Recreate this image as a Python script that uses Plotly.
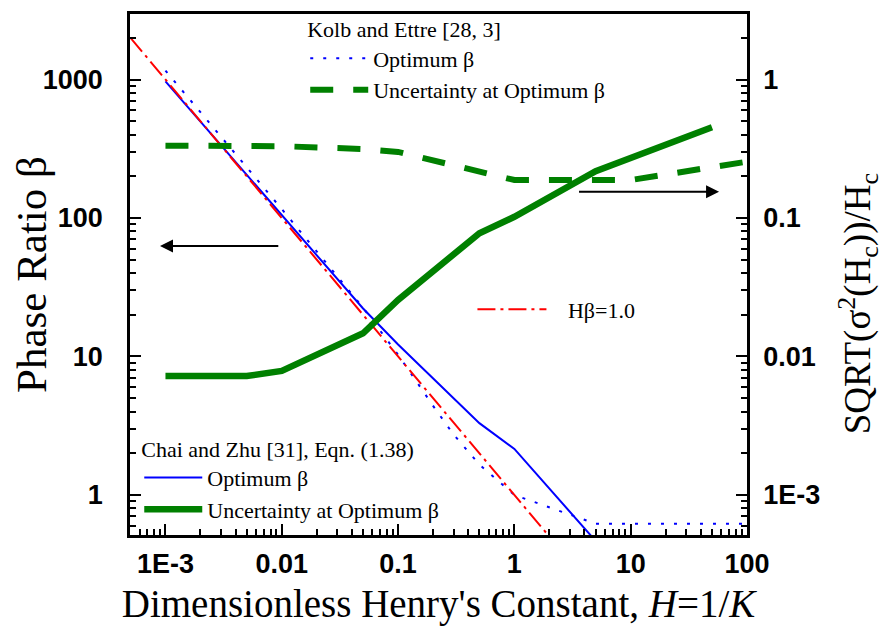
import plotly.graph_objects as go

# ---------------- data ----------------
# Kolb and Ettre [28, 3]
H_kolb = [0.001, 0.01, 0.05, 0.1, 0.2, 0.3, 0.5, 1, 5, 10, 100]
beta_kolb = [1160, 116, 22.5, 10.3, 4.4, 2.73, 1.66, 1.0, 0.62, 0.62, 0.62]
H_kolb_unc = [0.001, 0.01, 0.05, 0.1, 1, 10, 100]
unc_kolb = [0.333, 0.33, 0.315, 0.30, 0.188, 0.188, 0.255]

# Chai and Zhu [31], Eqn. (1.38)
H_chai = [0.001, 0.005, 0.01, 0.05, 0.1, 0.5, 1, 5]
beta_chai = [970, 204, 105, 22.2, 12.2, 3.3, 2.15, 0.465]
H_chai_unc = [0.001, 0.005, 0.01, 0.05, 0.1, 0.5, 1, 5, 50]
unc_chai = [0.00723, 0.00723, 0.00786, 0.0147, 0.0256, 0.0776, 0.102, 0.218, 0.452]

# H*beta = 1.0
H_line = [0.0005, 0.001, 0.01, 0.1, 1, 2]
beta_line = [2000, 1000, 100, 10, 1, 0.5]

x_tickvals = [0.001, 0.01, 0.1, 1, 10, 100]
x_ticktext = ["1E-3", "0.01", "0.1", "1", "10", "100"]
y_tickvals = [1, 10, 100, 1000]
y_ticktext = ["1", "10", "100", "1000"]
y2_tickvals = [0.001, 0.01, 0.1, 1]
y2_ticktext = ["1E-3", "0.01", "0.1", "1"]


def minor_vals(e_lo, e_hi):
    return [k * 10.0 ** e for e in range(e_lo, e_hi) for k in range(2, 10)]


SERIF = "Liberation Serif"
SANS = "Liberation Sans"
BLUE = "#0000FF"
GREEN = "#008000"
RED = "#FF0000"

fig = go.Figure()

fig.add_trace(go.Scatter(
    x=H_kolb, y=beta_kolb, mode="lines", name="Optimum β",
    line=dict(color=BLUE, width=2, dash="3px,10px"), legend="legend"))
fig.add_trace(go.Scatter(
    x=H_kolb_unc, y=unc_kolb, mode="lines", name="Uncertainty at Optimum β",
    yaxis="y2", line=dict(color=GREEN, width=6, dash="23px,20px"), legend="legend"))
fig.add_trace(go.Scatter(
    x=H_chai, y=beta_chai, mode="lines", name="Optimum β",
    line=dict(color=BLUE, width=2), legend="legend2"))
fig.add_trace(go.Scatter(
    x=H_chai_unc, y=unc_chai, mode="lines", name="Uncertainty at Optimum β",
    yaxis="y2", line=dict(color=GREEN, width=6.5), legend="legend2"))
fig.add_trace(go.Scatter(
    x=H_line, y=beta_line, mode="lines", name="\u00a0\u00a0\u00a0Hβ=1.0",
    line=dict(color=RED, width=2, dash="18px,5px,3px,5px"), legend="legend3"))

axis_common = dict(
    type="log", showline=True, linecolor="black", linewidth=2.5,
    ticks="inside", ticklen=11, tickwidth=2, tickcolor="black",
    showgrid=False, zeroline=False, automargin=False,
    tickfont=dict(family=SANS, size=27, color="black", weight="bold"),
)

fig.update_layout(
    width=882, height=624,
    margin=dict(l=122, r=143, t=6, b=97, autoexpand=False),
    paper_bgcolor="white", plot_bgcolor="white",
    font=dict(family=SERIF, color="black"),
    xaxis=dict(
        **axis_common, range=[-3.305, 2.0], mirror=True,
        tickmode="array", tickvals=x_tickvals, ticktext=x_ticktext,
        ticklabelstandoff=3,
        minor=dict(ticks="inside", ticklen=6, tickwidth=1.5, tickcolor="black",
                   tickmode="array", tickvals=minor_vals(-4, 2), showgrid=False),
        title=dict(text="Dimensionless Henry's Constant, <i>H</i>=1/<i>K</i>",
                   font=dict(family=SERIF, size=39, color="black"), standoff=12),
    ),
    yaxis=dict(
        **axis_common, range=[-0.289, 3.473],
        tickmode="array", tickvals=y_tickvals, ticktext=y_ticktext,
        ticklabelstandoff=19,
        minor=dict(ticks="inside", ticklen=6, tickwidth=1.5, tickcolor="black",
                   tickmode="array", tickvals=minor_vals(-1, 4), showgrid=False),
        title=dict(text="Phase Ratio β",
                   font=dict(family=SERIF, size=43, color="black"), standoff=4),
    ),
    yaxis2=dict(
        **axis_common, range=[-3.289, 0.473], overlaying="y", side="right",
        tickmode="array", tickvals=y2_tickvals, ticktext=y2_ticktext,
        ticklabelstandoff=8,
    ),
    legend=dict(
        x=0.284, y=1.01, xanchor="left", yanchor="top",
        bgcolor="rgba(0,0,0,0)", borderwidth=0, itemwidth=58,
        font=dict(family=SERIF, size=22, color="black"),
        title=dict(text="Kolb and Ettre [28, 3]",
                   font=dict(family=SERIF, size=22, color="black")),
        tracegroupgap=0,
    ),
    legend2=dict(
        x=0.015, y=0.205, xanchor="left", yanchor="top",
        bgcolor="rgba(0,0,0,0)", borderwidth=0, itemwidth=58,
        font=dict(family=SERIF, size=22, color="black"),
        title=dict(text="Chai and Zhu [31], Eqn. (1.38)",
                   font=dict(family=SERIF, size=22, color="black")),
        tracegroupgap=0,
    ),
    legend3=dict(
        x=0.555, y=0.473, xanchor="left", yanchor="top",
        bgcolor="rgba(0,0,0,0)", borderwidth=0, itemwidth=69,
        font=dict(family=SERIF, size=22, color="black"),
    ),
    showlegend=True,
)

# minor ticks on the right axis
fig.update_layout(yaxis2_minor=dict(ticks="inside", ticklen=6, tickwidth=1.5,
                                    tickcolor="black", tickmode="array",
                                    tickvals=minor_vals(-4, 1), showgrid=False))

# right axis title
fig.add_annotation(text="SQRT(σ<sup>2</sup>(H<sub>c</sub>))/H<sub>c</sub>",
                   xref="paper", yref="paper", x=1.180, y=0.443,
                   xanchor="center", yanchor="middle", textangle=-90,
                   showarrow=False,
                   font=dict(family=SERIF, size=37, color="black"))

# direction arrows (left -> left axis, right -> right axis)
fig.add_annotation(x=-3.047, y=1.798, ax=-2.017, ay=1.798,
                   xref="x", yref="y", axref="x", ayref="y",
                   text="", showarrow=True, arrowhead=2, arrowsize=1.3,
                   arrowwidth=2, arrowcolor="black")
fig.add_annotation(x=1.760, y=2.19, ax=0.543, ay=2.19,
                   xref="x", yref="y", axref="x", ayref="y",
                   text="", showarrow=True, arrowhead=2, arrowsize=1.3,
                   arrowwidth=2, arrowcolor="black")

fig.write_html("out.html")
